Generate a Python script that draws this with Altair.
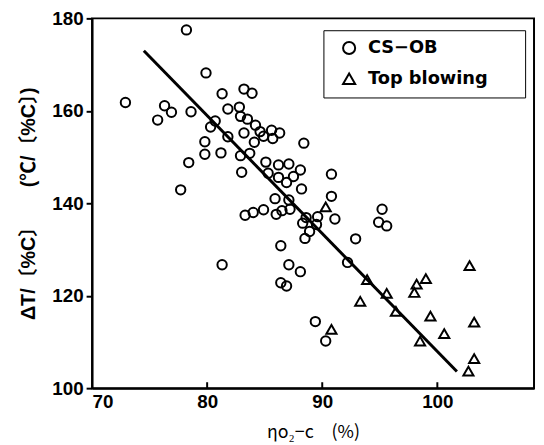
import altair as alt
import pandas as pd

# CS-OB (circles)
cs_x = [78.2, 72.9, 75.7, 76.3, 76.9, 78.6, 79.9, 79.8, 79.8, 78.4, 77.7, 80.3, 80.7, 81.3,
        81.8, 81.8, 81.2, 82.8, 82.9, 83.2, 83.9, 83.5, 84.2, 83.2, 84.6, 84.9, 84.1, 85.6,
        86.3, 85.7, 82.9, 83.7, 83.0, 85.1, 85.3, 86.2, 87.1, 86.2, 86.9, 87.5, 88.1, 88.4,
        88.2, 85.9, 87.1, 90.8, 90.8, 81.3, 83.3, 84.0, 84.9, 86.0, 86.5, 87.2, 88.3, 88.5,
        86.4, 87.1, 88.1, 86.4, 86.9, 88.6, 88.9, 89.6, 89.5, 91.1, 92.9, 95.2, 94.9, 95.6,
        92.2, 89.4, 90.3]
cs_y = [177.5, 161.8, 158.0, 161.1, 159.7, 159.8, 168.2, 153.3, 150.6, 148.8, 142.9, 156.5, 157.8, 163.7,
        160.4, 154.4, 150.9, 160.8, 158.8, 164.7, 163.8, 158.2, 156.9, 155.2, 155.5, 154.5, 153.2, 155.8,
        155.2, 154.0, 150.3, 150.8, 146.7, 148.9, 146.5, 148.3, 148.5, 145.6, 144.5, 145.8, 147.2, 153.0,
        143.1, 141.0, 140.7, 146.3, 141.5, 126.7, 137.4, 138.0, 138.6, 137.6, 138.4, 138.7, 135.7, 132.4,
        130.8, 126.7, 125.2, 122.8, 122.1, 136.9, 133.9, 137.1, 135.4, 136.6, 132.3, 138.7, 135.9, 135.1,
        127.2, 114.4, 110.2]

# Top blowing (triangles)
tb_x = [90.3, 93.9, 93.3, 90.8, 95.6, 96.4, 98.2, 98.0, 99.0, 99.4, 98.5, 100.6, 102.8, 103.2, 103.2, 102.7]
tb_y = [139.2, 123.5, 118.8, 112.7, 120.5, 116.6, 122.5, 120.7, 123.7, 115.6, 110.2, 111.8, 126.5, 114.3, 106.4, 103.7]

# regression line end points
line_x = [74.5, 101.7]
line_y = [173.0, 103.6]

x_ticks = [70, 80, 90, 100]
x_inner_ticks = [80, 90, 100]
y_ticks = [100, 120, 140, 160, 180]

series_names = ["CS\u2212OB", "Top blowing"]
x_title = "\u03b7o\u2082\u2212c\u3000(%)"
y_title = "\u0394T/\u3014%C\u3015\u3000\u3000(\u2103/\u3014%C\u3015)"

X_DOMAIN = [70, 108.4]
Y_DOMAIN = [100, 180]
W, H = 447, 374

pts = pd.concat([
    pd.DataFrame({"x": cs_x, "y": cs_y, "series": series_names[0]}),
    pd.DataFrame({"x": tb_x, "y": tb_y, "series": series_names[1]}),
])
line_df = pd.DataFrame({"x": line_x, "y": line_y})
tick_df = pd.DataFrame({"x": x_inner_ticks})

xs = alt.Scale(domain=X_DOMAIN, nice=False, zero=False)
ys = alt.Scale(domain=Y_DOMAIN, nice=False, zero=False)

num_font = "Liberation Sans Narrow, Arial Narrow, Liberation Sans"

x_axis = alt.Axis(title=x_title, values=x_ticks, ticks=False, labelFlush=True,
                  labelPadding=5, titlePadding=12, titleFont="Noto Sans CJK JP",
                  titleFontSize=18, titleFontWeight="normal")
y_axis = alt.Axis(title=y_title, values=y_ticks, tickSize=6, labelPadding=3,
                  titlePadding=13, titleFont="Liberation Sans, Noto Sans CJK JP",
                  titleFontSize=20, titleFontWeight="bold")

points = alt.Chart(pts).mark_point(filled=False, strokeWidth=2, color="black", opacity=1).encode(
    x=alt.X("x:Q", scale=xs, axis=x_axis),
    y=alt.Y("y:Q", scale=ys, axis=y_axis),
    shape=alt.Shape("series:N",
                    scale=alt.Scale(domain=series_names, range=["circle", "triangle-up"]),
                    legend=alt.Legend(title=None, orient="none", legendX=234, legendY=12,
                                      strokeColor="black", padding=9, symbolSize=150,
                                      symbolStrokeWidth=2, symbolStrokeColor="black",
                                      symbolOffset=8, labelOffset=10, rowPadding=10,
                                      labelFont="DejaVu Sans", labelFontSize=18,
                                      labelFontWeight="bold", labelColor="black",
                                      labelExpr="datum.label + '\u2800\u2800'")),
    size=alt.condition("datum.series == '" + series_names[0] + "'", alt.value(90), alt.value(105)),
)

line = alt.Chart(line_df).mark_line(color="black", strokeWidth=3).encode(
    x=alt.X("x:Q", scale=xs, axis=x_axis),
    y=alt.Y("y:Q", scale=ys, axis=y_axis),
)

inner_ticks = alt.Chart(tick_df).mark_rule(color="black", strokeWidth=2).encode(
    x=alt.X("x:Q", scale=xs, axis=x_axis),
    y=alt.value(H),
    y2=alt.value(H - 6),
)

chart = alt.layer(points, line, inner_ticks).properties(
    width=W, height=H,
    padding={"left": 85, "top": 8, "right": 2, "bottom": 55},
    autosize=alt.AutoSizeParams(type="none"),
).configure_view(
    stroke="black", strokeWidth=2
).configure_axis(
    grid=False, domainColor="black", domainWidth=2, tickColor="black", tickWidth=2,
    labelColor="black", titleColor="black", labelFont=num_font, labelFontSize=19,
    labelFontWeight="bold",
)

chart.save("out.html", embed_options={"renderer": "svg", "actions": False})
